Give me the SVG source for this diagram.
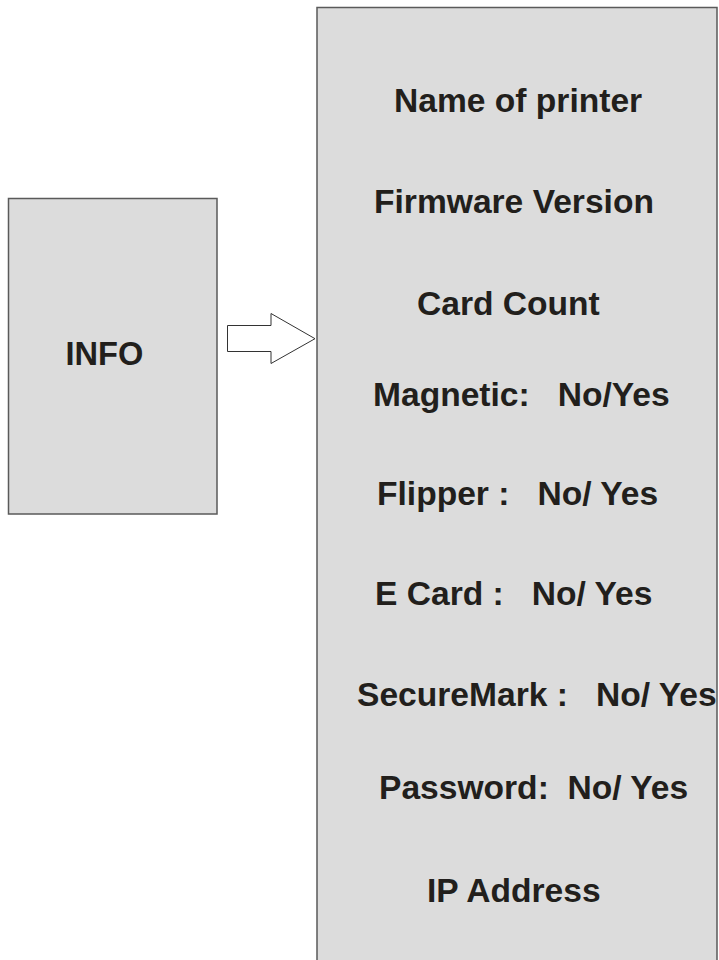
<svg xmlns="http://www.w3.org/2000/svg" width="719" height="960" viewBox="0 0 719 960">
<style>
.box{fill:#dcdcdc;stroke:#5a5a5a;stroke-width:1.5}
.t{font-family:"Liberation Sans",Arial,sans-serif;font-weight:bold;font-size:33.6px;fill:#221f1c;white-space:pre}
.arrow{fill:#ffffff;stroke:#333333;stroke-width:1}
</style>
<rect width="719" height="960" fill="#ffffff"/>
<g id="info">
<rect class="box" x="8.5" y="198.5" width="208.5" height="315.5"/>
<text class="t" x="65.5" y="365" style="font-size:32.6px">INFO</text>
</g>
<g id="connectors">
<polygon class="arrow" points="227.5,325.5 271,325.5 271,313.5 315,338.7 271,363.5 271,351.5 227.5,351.5"/>
</g>
<g id="details">
<rect class="box" x="317" y="7.5" width="400" height="970"/>
<text class="t" x="394" y="112">Name of printer</text>
<text class="t" x="374" y="213">Firmware Version</text>
<text class="t" x="417" y="315">Card Count</text>
<text class="t" x="373" y="406" xml:space="preserve">Magnetic:   No/Yes</text>
<text class="t" x="377" y="505" xml:space="preserve">Flipper :   No/ Yes</text>
<text class="t" x="375" y="605" xml:space="preserve">E Card :   No/ Yes</text>
<text class="t" x="357" y="706" xml:space="preserve">SecureMark :   No/ Yes</text>
<text class="t" x="379" y="799" xml:space="preserve">Password:  No/ Yes</text>
<text class="t" x="427" y="902">IP Address</text>
</g>
</svg>
